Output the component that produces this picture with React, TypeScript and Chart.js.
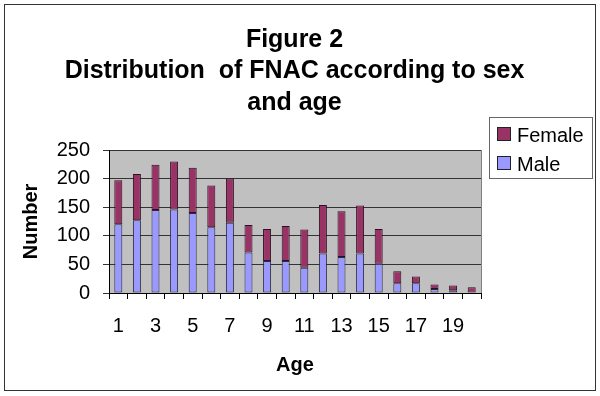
import React, { useEffect, useRef } from "react";
import { Chart, registerables } from "chart.js";

Chart.register(...registerables);

const ages = ["1","2","3","4","5","6","7","8","9","10","11","12","13","14","15","16","17","18","19","20"];
const maleCounts = [120, 127, 145, 146, 140, 115, 123, 71, 56, 56, 44, 69, 63, 69, 51, 17, 17, 7, 5, 0];
const femaleCounts = [77, 81, 79, 84, 79, 73, 77, 48, 56, 61, 67, 85, 80, 84, 61, 21, 12, 8, 8, 10];
const titleLines = ["Figure 2", "Distribution  of FNAC according to sex", "and age"];
const seriesNames = { male: "Male", female: "Female" };
const yTicks = [0, 50, 100, 150, 200, 250];

const FONT = 'Arial, "Liberation Sans", Helvetica, sans-serif';
const MALE_COLOR = "#9999ff";
const FEMALE_COLOR = "#993366";

const decorPlugin = {
  id: "decor",
  beforeDraw(chart: any) {
    const { ctx, chartArea } = chart;
    ctx.save();
    ctx.fillStyle = "#ffffff";
    ctx.fillRect(0, 0, chart.width, chart.height);
    ctx.strokeStyle = "#333333";
    ctx.lineWidth = 1;
    ctx.strokeRect(4.5, 4.5, 591, 386);
    ctx.fillStyle = "#c0c0c0";
    ctx.fillRect(chartArea.left, chartArea.top, chartArea.right - chartArea.left, chartArea.bottom - chartArea.top);
    ctx.strokeStyle = "#808080";
    ctx.beginPath();
    ctx.moveTo(chartArea.right + 0.5, chartArea.top);
    ctx.lineTo(chartArea.right + 0.5, chartArea.bottom);
    ctx.stroke();
    ctx.restore();
  },
  afterDraw(chart: any) {
    const { ctx } = chart;
    ctx.save();
    // Title
    ctx.fillStyle = "#000";
    ctx.font = `bold 25px ${FONT}`;
    ctx.textAlign = "center";
    ctx.textBaseline = "middle";
    const ys = [40, 71.5, 103];
    titleLines.forEach((t, i) => ctx.fillText(t, 294.5, ys[i]));
    // Legend
    ctx.fillStyle = "#fff";
    ctx.fillRect(489.5, 117.5, 103, 61);
    ctx.strokeStyle = "#666";
    ctx.lineWidth = 1;
    ctx.strokeRect(489.5, 117.5, 103, 61);
    const ds = chart.data.datasets;
    const items = [ds[1], ds[0]];
    const rowY = [135, 164];
    ctx.font = `20px ${FONT}`;
    ctx.textAlign = "left";
    items.forEach((d: any, i: number) => {
      ctx.fillStyle = d.backgroundColor;
      ctx.fillRect(497.5, rowY[i] - 7.5, 13, 13);
      ctx.strokeStyle = "#222";
      ctx.strokeRect(497.5, rowY[i] - 7.5, 13, 13);
      ctx.fillStyle = "#000";
      ctx.fillText(d.label, 517, rowY[i] + 1);
    });
    ctx.restore();
  },
};

export default function App() {
  const ref = useRef<HTMLCanvasElement | null>(null);
  useEffect(() => {
    if (!ref.current) return;
    Chart.defaults.font.family = FONT;
    Chart.defaults.color = "#000";
    const chart = new Chart(ref.current, {
      type: "bar",
      data: {
        labels: ages,
        datasets: [
          {
            label: seriesNames.male,
            data: maleCounts,
            backgroundColor: MALE_COLOR,
            borderColor: "#2a2a40",
            borderWidth: 1,
            borderSkipped: false,
            categoryPercentage: 1,
            barPercentage: 0.43,
          },
          {
            label: seriesNames.female,
            data: femaleCounts,
            backgroundColor: FEMALE_COLOR,
            borderColor: "#2a1020",
            borderWidth: 1,
            borderSkipped: false,
            categoryPercentage: 1,
            barPercentage: 0.43,
          },
        ],
      },
      options: {
        responsive: false,
        animation: false,
        layout: { padding: { top: 150, left: 4, right: 119, bottom: 0 } },
        plugins: {
          legend: { display: false },
          title: { display: false },
          tooltip: { enabled: false },
        },
        scales: {
          x: {
            stacked: true,
            afterFit: (s: any) => {
              s.height = 103;
            },
            grid: {
              drawOnChartArea: false,
              drawTicks: true,
              tickLength: 6,
              color: "#000",
              offset: true,
            },
            border: { display: true, color: "#000" },
            ticks: {
              autoSkip: false,
              maxRotation: 0,
              padding: 15,
              font: { size: 20 },
              color: "#000",
              callback: (_v: any, i: number) => (i % 2 === 0 ? ages[i] : ""),
            },
            title: {
              display: true,
              text: "Age",
              font: { size: 20, weight: "bold" },
              color: "#000",
              padding: { top: 0, bottom: 19 },
            },
          },
          y: {
            stacked: true,
            min: 0,
            max: 250,
            afterFit: (s: any) => {
              s.width = 105;
            },
            afterBuildTicks: (s: any) => {
              s.ticks = yTicks.map((v) => ({ value: v }));
            },
            grid: { color: "#333", tickLength: 6, drawTicks: true },
            border: { display: true, color: "#000" },
            ticks: { padding: 13, font: { size: 20 }, color: "#000" },
            title: {
              display: true,
              text: "Number",
              font: { size: 20, weight: "bold" },
              color: "#000",
              padding: { top: 15, bottom: 0 },
            },
          },
        },
      },
      plugins: [decorPlugin],
    });
    return () => chart.destroy();
  }, []);
  return (
    <div style={{ position: "absolute", left: 0, top: 0, width: 600, height: 396, background: "#fff" }}>
      <canvas ref={ref} width={600} height={396} style={{ display: "block" }} />
    </div>
  );
}
